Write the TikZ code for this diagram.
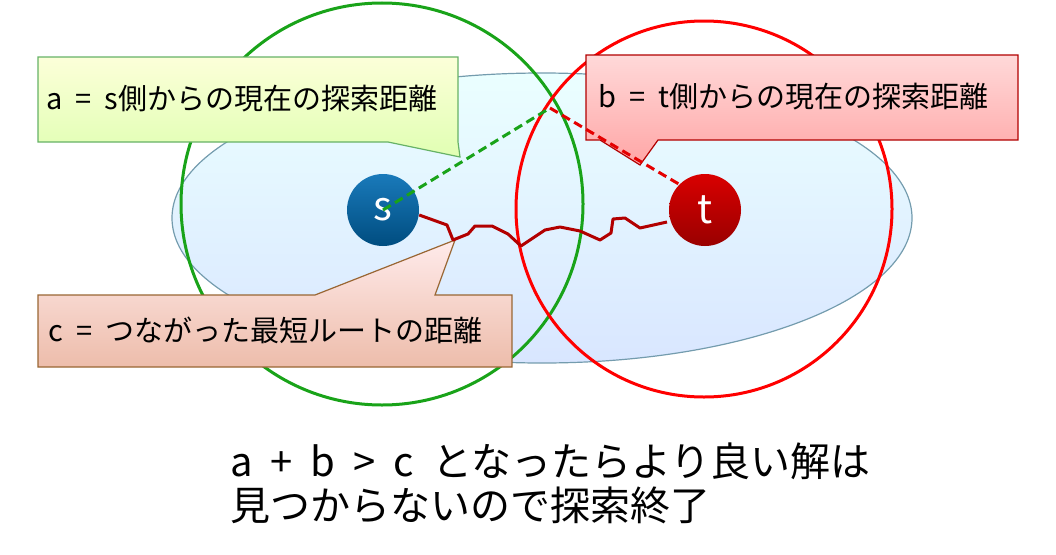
\documentclass[tikz,border=0pt]{standalone}
\usepackage{fontspec}
\setmainfont{Noto Sans CJK JP}
\newcommand{\wsp}{\hspace{0.45em}}
\begin{document}
\begin{tikzpicture}[x=1pt,y=-1pt,
  lbl/.style={font=\fontsize{29}{32}\selectfont, anchor=west, inner sep=0pt},
  ball/.style={circle, minimum size=72pt, inner sep=0pt, text=white, font=\fontsize{40}{40}\selectfont}]
\useasboundingbox (0,0) rectangle (1056,554);
\shade[top color=cyan!8, bottom color=cyan!35!blue!15, draw=cyan!50!black!70, line width=1.2pt] (542,218) ellipse [x radius=370, y radius=145];
\draw[green!60!black!90, line width=3pt] (382,204) circle [radius=201];
\draw[red, line width=3pt] (704,209) circle [radius=188];
% callout a
\shade[top color=green!8!yellow!15, bottom color=green!40!yellow!30, draw=green!50!black!60, line width=1.2pt]
 (38,57) -- (458,57) -- (458,142) -- (460,157) -- (388,142) -- (38,142) -- cycle;
\node[lbl] (la) at (46,99) {a\wsp=\wsp s側からの現在の探索距離};
% callout b
\shade[top color=red!15, bottom color=red!35, draw=red!70!black, line width=1.2pt]
 (586,55) -- (1018,55) -- (1018,140) -- (658,140) -- (640,165) -- (600,140) -- (586,140) -- cycle;
\node[lbl] (lb) at (598,97) {b\wsp=\wsp t側からの現在の探索距離};
% callout c
\shade[top color=red!8, bottom color=red!30!brown!40, draw=brown!80!black, line width=1.2pt]
 (38,295) -- (315,295) -- (455,240) -- (435,295) -- (512,295) -- (512,367) -- (38,367) -- cycle;
\node[lbl] (lc) at (48,330) {c\wsp=\wsp つながった最短ルートの距離};
% nodes
\node[ball, shading=axis, top color=cyan!60!blue!70!black!90, bottom color=cyan!60!blue!50!black] (s) at (383,210) {s};
\node[ball, shading=axis, top color=red!85!black, bottom color=red!60!black] (t) at (705,210) {t};
\coordinate (m) at (550,108);
\draw[green!60!black!90, dash pattern=on 9pt off 5pt, line width=3pt] (s.center) -- (m);
\draw[red!90!black, dash pattern=on 9pt off 5pt, line width=3pt] (m) -- (t.north west);
\draw[red!70!black, line width=3pt, line join=round]
 (s.east) ++(0,5) -- (447,225) -- (453,240) -- (468,234) -- (475,226) -- (492,226) -- (508,234) -- (521,246) -- (530,240) -- (545,230) -- (560,227) -- (580,231) -- (600,240) -- (611,233) -- (613,219) -- (625,218) -- (640,228) -- (667,222);
\node[anchor=west, inner sep=0pt, align=left, font=\fontsize{40}{44}\selectfont] (bot) at (230,483) {a\wsp+\wsp b\wsp>\wsp c\wsp となったらより良い解は\\見つからないので探索終了};
\end{tikzpicture}
\end{document}
